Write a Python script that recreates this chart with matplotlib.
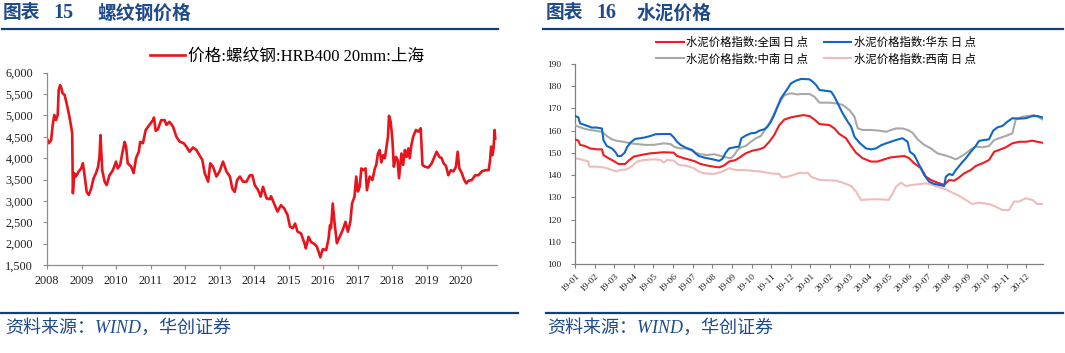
import numpy as np
import matplotlib
matplotlib.use("Agg")
import matplotlib.pyplot as plt
from matplotlib.lines import Line2D

# ---------------- data ----------------
# Chart 15: rebar price HRB400 20mm Shanghai (time in decimal years, CNY/t)
rebar_t = [2008.00, 2008.05, 2008.12, 2008.16, 2008.21, 2008.26, 2008.31, 2008.34, 2008.38, 2008.42,
           2008.45, 2008.51, 2008.58, 2008.65, 2008.70, 2008.73, 2008.75, 2008.79, 2008.84, 2008.92,
           2008.99, 2009.04, 2009.08, 2009.15, 2009.21, 2009.28, 2009.35, 2009.42, 2009.48, 2009.52,
           2009.55, 2009.60, 2009.67, 2009.73, 2009.81, 2009.91, 2010.00, 2010.05, 2010.12, 2010.18,
           2010.25, 2010.29, 2010.34, 2010.44, 2010.51, 2010.58, 2010.66, 2010.70, 2010.78, 2010.86,
           2010.97, 2011.07, 2011.10, 2011.15, 2011.21, 2011.31, 2011.41, 2011.46, 2011.55, 2011.65,
           2011.75, 2011.84, 2011.96, 2012.04, 2012.13, 2012.23, 2012.33, 2012.42, 2012.50, 2012.57,
           2012.67, 2012.73, 2012.81, 2012.91, 2013.00, 2013.10, 2013.20, 2013.30, 2013.37, 2013.44,
           2013.51, 2013.59, 2013.68, 2013.78, 2013.88, 2013.95, 2014.02, 2014.12, 2014.19, 2014.26,
           2014.36, 2014.46, 2014.49, 2014.58, 2014.68, 2014.78, 2014.87, 2014.97, 2015.04, 2015.12,
           2015.19, 2015.26, 2015.36, 2015.46, 2015.50, 2015.58, 2015.65, 2015.75, 2015.82, 2015.87,
           2015.92, 2015.99, 2016.09, 2016.16, 2016.20, 2016.23, 2016.28, 2016.33, 2016.40, 2016.48,
           2016.57, 2016.65, 2016.72, 2016.79, 2016.84, 2016.91, 2016.96, 2017.01, 2017.06, 2017.11,
           2017.16, 2017.23, 2017.27, 2017.35, 2017.43, 2017.50, 2017.54, 2017.59, 2017.64, 2017.69,
           2017.74, 2017.79, 2017.83, 2017.88, 2017.91, 2017.96, 2018.01, 2018.05, 2018.11, 2018.16,
           2018.20, 2018.27, 2018.32, 2018.37, 2018.42, 2018.47, 2018.51, 2018.56, 2018.61, 2018.69,
           2018.76, 2018.83, 2018.88, 2018.95, 2019.05, 2019.15, 2019.21, 2019.29, 2019.37, 2019.44,
           2019.49, 2019.56, 2019.63, 2019.70, 2019.78, 2019.85, 2019.90, 2019.95, 2020.02, 2020.09,
           2020.15, 2020.21, 2020.31, 2020.41, 2020.50, 2020.60, 2020.70, 2020.80, 2020.84, 2020.87,
           2020.91, 2020.94, 2020.97, 2020.99]
rebar_price = [4460, 4350, 4420, 4740, 5010, 4890, 5010, 5600, 5710, 5630,
               5520, 5480, 5240, 4970, 4740, 4580, 3180, 3650, 3570, 3690,
               3760, 3880, 3650, 3210, 3140, 3290, 3530, 3650, 3800, 4030,
               4540, 3720, 3450, 3370, 3600, 3720, 3920, 3760, 3840, 4110,
               4380, 4270, 3880, 3800, 3650, 4000, 4150, 4380, 4350, 4660,
               4780, 4890, 4950, 4640, 4670, 4890, 4890, 4780, 4850, 4740,
               4500, 4390, 4350, 4270, 4150, 4250, 4190, 4070, 3960, 3650,
               3450, 3880, 3800, 3570, 3690, 3920, 3690, 3570, 3290, 3210,
               3490, 3570, 3450, 3450, 3600, 3600, 3370, 3250, 3100, 3330,
               3060, 3040, 3110, 2940, 2750, 2900, 2830, 2670, 2400, 2360,
               2470, 2280, 2240, 2010, 1890, 2160, 2040, 1990, 1930, 1810,
               1680, 1870, 1850, 2120, 2430, 2360, 2940, 2510, 2010, 2160,
               2320, 2510, 2280, 2510, 2940, 3100, 3570, 3220, 3330, 3760,
               3720, 3760, 3250, 3570, 3490, 3760, 3840, 4110, 4190, 3900,
               4070, 4000, 4230, 4500, 4990, 4850, 4420, 3800, 4030, 3960,
               3530, 4110, 3840, 4190, 4030, 4230, 4000, 4310, 4500, 4660,
               4620, 4700, 3840, 3800, 3780, 3880, 4000, 4150, 4030, 4000,
               3880, 3820, 3600, 3720, 3690, 3800, 4150, 3760, 3650, 3490,
               3410, 3470, 3490, 3600, 3600, 3690, 3720, 3720, 3960, 4270,
               4070, 4230, 4660, 4460]
rebar_label = "价格:螺纹钢:HRB400 20mm:上海"
year_ticks = [2008, 2009, 2010, 2011, 2012, 2013, 2014, 2015, 2016, 2017, 2018, 2019, 2020]
rebar_yticks = [1500, 2000, 2500, 3000, 3500, 4000, 4500, 5000, 5500, 6000]

# Chart 16: cement price index (time in months since 2019-01-01)
nat_m = [0, 0.17, 0.26, 0.51, 0.77, 1.11, 1.37, 1.45, 1.71, 1.96, 2.22, 2.56, 2.73, 2.99, 3.33, 3.84,
         4.52, 5.03, 5.20, 5.55, 5.89, 6.14, 6.40, 6.74, 7.08, 7.34, 7.59, 7.85, 8.19, 8.45, 8.70,
         9.04, 9.39, 9.64, 9.90, 10.15, 10.41, 10.67, 11.01, 11.35, 11.52, 11.61, 11.95, 12.20,
         12.46, 12.97, 13.22, 13.47, 13.81, 14.07, 14.32, 14.66, 15.08, 15.42, 15.76, 16.10, 16.44,
         16.78, 17.03, 17.29, 17.63, 17.88, 18.14, 18.47, 18.81, 19.07, 19.32, 19.58, 19.83, 20.17,
         20.42, 20.76, 21.10, 21.36, 21.61, 21.95, 22.29, 22.63, 22.97, 23.31, 23.56, 23.81]
nat_v = [156.1, 155.5, 153.6, 153.1, 152.0, 151.6, 151.6, 149.0, 147.6, 146.4, 145.0, 145.0, 146.5,
         148.3, 149.0, 149.8, 150.3, 150.1, 148.6, 147.6, 146.8, 146.1, 145.0, 144.3, 143.8, 143.5,
         144.3, 146.1, 146.8, 148.3, 149.8, 151.0, 151.6, 152.5, 155.0, 158.0, 162.5, 165.0, 166.0,
         166.6, 166.8, 167.0, 166.6, 165.0, 163.0, 162.5, 161.0, 158.5, 156.6, 153.1, 150.1, 147.6,
         146.1, 146.1, 147.1, 148.0, 148.3, 148.6, 147.6, 145.3, 143.1, 139.3, 137.8, 136.6, 135.6,
         137.8, 137.5, 139.0, 140.8, 142.3, 144.1, 145.3, 146.8, 150.5, 151.3, 152.5, 154.3, 155.0,
         155.0, 155.5, 155.0, 154.6]

east_m = [0, 0.17, 0.26, 0.51, 0.68, 0.85, 1.11, 1.37, 1.45, 1.62, 1.88, 2.05, 2.18, 2.35, 2.53,
          2.65, 2.82, 3.07, 3.33, 3.58, 3.84, 4.10, 4.52, 4.86, 5.03, 5.20, 5.38, 5.63, 5.97, 6.14,
          6.31, 6.57, 6.91, 7.17, 7.34, 7.51, 7.68, 7.85, 8.11, 8.36, 8.48, 8.70, 8.96, 9.22, 9.39,
          9.64, 9.81, 9.98, 10.15, 10.32, 10.49, 10.67, 10.84, 11.01, 11.26, 11.53, 11.95, 12.12,
          12.29, 12.46, 12.80, 13.05, 13.22, 13.39, 13.64, 13.90, 14.07, 14.24, 14.49, 14.83, 15.08,
          15.34, 15.59, 15.85, 16.10, 16.36, 16.69, 16.95, 17.07, 17.29, 17.54, 17.80, 18.05, 18.31,
          18.56, 18.81, 18.90, 19.07, 19.24, 19.41, 19.66, 19.92, 20.17, 20.42, 20.59, 20.85, 21.10,
          21.31, 21.53, 21.78, 22.03, 22.29, 22.63, 22.97, 23.31, 23.56, 23.81]
east_v = [166.6, 166.0, 163.3, 162.5, 162.0, 161.4, 161.4, 161.0, 155.8, 153.1, 152.0, 150.5, 148.6,
          148.6, 150.1, 152.5, 154.6, 156.3, 156.6, 157.0, 157.6, 158.4, 158.5, 158.5, 157.0, 155.0,
          153.6, 152.4, 151.3, 149.8, 148.6, 147.9, 147.3, 146.8, 146.4, 147.3, 150.1, 152.0, 152.5,
          152.8, 156.6, 157.8, 158.8, 159.1, 160.0, 160.6, 161.8, 164.0, 167.0, 170.8, 174.5, 176.8,
          179.0, 181.3, 182.5, 183.3, 183.1, 182.0, 180.5, 178.3, 177.9, 177.6, 175.3, 172.3, 167.8,
          164.0, 161.8, 157.3, 154.6, 152.0, 151.6, 152.0, 153.4, 154.3, 155.0, 155.8, 156.6, 155.0,
          150.5, 149.0, 144.6, 140.0, 137.0, 136.0, 135.6, 135.1, 139.3, 140.5, 140.0, 142.3, 145.0,
          147.6, 150.5, 153.1, 155.4, 155.8, 156.1, 160.0, 161.5, 162.1, 164.0, 165.6, 165.4, 165.6,
          166.6, 166.6, 166.0]

cs_m = [0, 0.17, 0.43, 0.77, 1.11, 1.37, 1.62, 1.88, 2.13, 2.47, 2.82, 3.16, 3.58, 4.01, 4.52, 4.86,
        5.12, 5.38, 5.63, 5.89, 6.14, 6.40, 6.74, 7.08, 7.42, 7.68, 7.94, 8.11, 8.28, 8.48, 8.70,
        8.96, 9.22, 9.47, 9.73, 9.95, 10.15, 10.41, 10.67, 11.01, 11.35, 11.52, 11.95, 12.20, 12.46,
        12.97, 13.31, 13.64, 13.98, 14.24, 14.41, 14.66, 15.08, 15.51, 15.85, 16.10, 16.36, 16.69,
        16.95, 17.20, 17.46, 17.80, 18.14, 18.47, 18.81, 19.07, 19.41, 19.66, 19.92, 20.17, 20.42,
        20.76, 21.10, 21.36, 21.61, 21.95, 22.29, 22.46, 22.80, 23.14, 23.39, 23.64, 23.81]
cs_v = [162.5, 161.8, 161.0, 160.3, 159.9, 159.5, 157.6, 156.1, 155.4, 155.0, 154.3, 154.0, 153.6,
        153.6, 154.3, 154.0, 152.5, 152.0, 152.0, 151.3, 150.1, 149.4, 149.0, 149.4, 148.6, 148.0,
        147.6, 149.0, 151.3, 152.5, 153.1, 155.0, 156.6, 157.6, 161.0, 164.0, 167.8, 172.3, 176.0,
        176.8, 176.3, 176.5, 176.5, 175.3, 172.6, 172.6, 172.3, 171.6, 169.3, 166.3, 161.0, 160.3,
        160.3, 160.0, 159.5, 160.3, 161.0, 161.0, 160.3, 159.1, 156.1, 153.6, 152.0, 149.8, 149.0,
        148.3, 147.1, 148.3, 149.8, 151.6, 152.8, 152.5, 153.1, 155.8, 156.6, 157.6, 158.8, 165.1,
        166.3, 166.6, 167.0, 166.0, 165.1]

sw_m = [0, 0.43, 0.68, 0.73, 1.11, 1.45, 1.79, 2.10, 2.30, 2.65, 2.90, 3.16, 3.50, 4.01, 4.35, 4.52,
        4.69, 5.03, 5.29, 5.72, 6.06, 6.31, 6.57, 7.08, 7.51, 7.85, 8.19, 8.62, 9.04, 9.47, 9.98,
        10.41, 10.53, 10.84, 11.09, 11.35, 11.52, 11.61, 11.86, 12.03, 12.46, 13.31, 13.64, 14.07,
        14.32, 14.58, 15.08, 15.59, 15.98, 16.19, 16.36, 16.61, 16.86, 17.20, 17.54, 17.88, 18.22,
        18.56, 18.90, 19.24, 19.58, 19.92, 20.25, 20.59, 21.10, 21.44, 21.78, 22.12, 22.37, 22.63,
        22.97, 23.31, 23.56, 23.81]
sw_v = [147.6, 146.8, 146.1, 143.8, 143.8, 143.5, 142.6, 141.6, 142.3, 142.6, 144.1, 146.1, 146.8,
        147.1, 146.8, 145.6, 146.8, 146.5, 144.6, 144.1, 143.1, 141.6, 140.8, 140.5, 141.6, 143.1,
        142.3, 142.3, 141.9, 141.6, 140.8, 140.5, 139.0, 139.3, 140.0, 140.8, 141.1, 140.8, 141.1,
        139.3, 137.8, 137.5, 136.6, 135.1, 132.6, 128.8, 129.1, 129.1, 128.8, 131.8, 134.8, 136.6,
        135.1, 135.6, 135.9, 136.3, 135.6, 134.5, 133.6, 132.1, 130.6, 128.8, 127.0, 127.6, 127.0,
        125.8, 124.3, 124.3, 128.1, 128.1, 129.6, 128.8, 127.0, 127.0]

cement_labels = ["水泥价格指数:全国 日 点", "水泥价格指数:华东 日 点",
                 "水泥价格指数:中南 日 点", "水泥价格指数:西南 日 点"]
month_labels = ["19-01", "19-02", "19-03", "19-04", "19-05", "19-06", "19-07", "19-08",
                "19-09", "19-10", "19-11", "19-12", "20-01", "20-02", "20-03", "20-04",
                "20-05", "20-06", "20-07", "20-08", "20-09", "20-10", "20-11", "20-12"]
cement_yticks = [100, 110, 120, 130, 140, 150, 160, 170, 180, 190]

# ---------------- styling ----------------
W, H = 1065, 353
NAVY = "#123f7c"
TITLE_C = "#1f4a8c"
SERIF = ["Liberation Serif", "Noto Sans CJK SC"]
CJK = ["Noto Sans CJK SC", "DejaVu Sans"]
plt.rcParams["font.family"] = SERIF

def fx(px):
    return px / W

def fy(py):
    return 1 - py / H

fig = plt.figure(figsize=(W / 100, H / 100), dpi=100)
fig.patch.set_facecolor("white")

# titles & rules
for x0, num, num_x, name_x, name, x_line0, x_line1 in [
        (3, "15", 53, 97, "螺纹钢价格", 2, 498),
        (546, "16", 596, 637, "水泥价格", 543, 1063)]:
    fig.text(fx(x0), fy(13), "图表", family=CJK, fontsize=13.5, fontweight="bold",
             color=TITLE_C, va="center", ha="left")
    fig.text(fx(num_x), fy(13), num, family=["Liberation Serif"], fontsize=14.5,
             fontweight="bold", color=TITLE_C, va="center", ha="left")
    fig.text(fx(name_x), fy(13), name, family=CJK,
             fontsize=13.5, fontweight="bold", color=TITLE_C, va="center", ha="left")
    fig.add_artist(Line2D([fx(x_line0), fx(x_line1)], [fy(28.5), fy(28.5)],
                          color=NAVY, lw=1.6, transform=fig.transFigure))

# footers
for x0, x_line0, x_line1 in [(5, 1, 518), (547, 546, 1063)]:
    fig.add_artist(Line2D([fx(x_line0), fx(x_line1)], [fy(312.5), fy(312.5)],
                          color=NAVY, lw=1.6, transform=fig.transFigure))
    fig.text(fx(x0), fy(328), "资料来源：WIND，华创证券", family=SERIF, fontsize=13,
             style="italic", color=TITLE_C, va="center", ha="left")

# ---------------- left chart ----------------
ax1 = fig.add_axes([fx(47), fy(265), fx(497) - fx(47), fy(72.7) - fy(265)])
ax1.plot(rebar_t, rebar_price, color="#e8141b", lw=1.9, label=rebar_label)
ax1.set_xlim(2008, 2021.04)
ax1.set_ylim(1500, 6000)
ax1.set_xticks(year_ticks)
ax1.set_xticklabels([str(y) for y in year_ticks])
ax1.set_yticks(rebar_yticks)
ax1.set_yticklabels([f"{v:,}" for v in rebar_yticks])
for s in ["top", "right"]:
    ax1.spines[s].set_visible(False)
for s in ["left", "bottom"]:
    ax1.spines[s].set_color("#8c8c8c")
    ax1.spines[s].set_linewidth(0.9)
ax1.tick_params(axis="both", direction="out", length=3, width=0.8, color="#8c8c8c",
                labelsize=8.8, labelcolor="#222222")
ax1.tick_params(axis="y", pad=7)
ax1.tick_params(axis="x", pad=4)
for lab in ax1.get_xticklabels() + ax1.get_yticklabels():
    lab.set_family(["Liberation Serif"])
leg1 = ax1.legend(loc="center", bbox_to_anchor=(fx(287), fy(57)), bbox_transform=fig.transFigure,
                  frameon=False, handlelength=2.1, handletextpad=0.15, borderaxespad=0,
                  prop={"family": SERIF, "size": 12})

# ---------------- right chart ----------------
ax2 = fig.add_axes([fx(575), fy(264), fx(1043) - fx(575), fy(64) - fy(264)])
ax2.plot(nat_m, nat_v, color="#f01c22", lw=1.5, label=cement_labels[0], zorder=4)
ax2.plot(east_m, east_v, color="#1166c4", lw=1.5, label=cement_labels[1], zorder=5)
ax2.plot(cs_m, cs_v, color="#a8a8a8", lw=1.5, label=cement_labels[2], zorder=3)
ax2.plot(sw_m, sw_v, color="#efbcbc", lw=1.5, label=cement_labels[3], zorder=2)
ax2.set_xlim(0, 23.85)
ax2.set_ylim(100, 190)
ax2.set_yticks(cement_yticks)
ax2.set_yticklabels([str(v) for v in cement_yticks])
ax2.set_xticks(range(len(month_labels)))
ax2.set_xticklabels(month_labels, rotation=45, ha="right", va="top", rotation_mode="anchor")
for s in ["top", "right"]:
    ax2.spines[s].set_visible(False)
for s in ["left", "bottom"]:
    ax2.spines[s].set_color("#808080")
    ax2.spines[s].set_linewidth(0.9)
ax2.tick_params(axis="both", direction="out", length=3, width=0.8, color="#808080",
                labelsize=6.8, labelcolor="#222222")
ax2.tick_params(axis="y", pad=7)
ax2.tick_params(axis="x", pad=3)
for lab in ax2.get_xticklabels() + ax2.get_yticklabels():
    lab.set_family(["Liberation Serif"])
handles, labels = ax2.get_legend_handles_labels()
order = [0, 2, 1, 3]
leg2 = ax2.legend([handles[i] for i in order], [labels[i] for i in order], ncol=2,
                  loc="center", bbox_to_anchor=(fx(816), fy(50.5)), bbox_transform=fig.transFigure,
                  frameon=False, handlelength=2.4, handletextpad=0.2, columnspacing=1.4,
                  labelspacing=0.45, borderaxespad=0, prop={"family": CJK, "size": 8.2})

fig.savefig("out.png", dpi=100, facecolor="white")
